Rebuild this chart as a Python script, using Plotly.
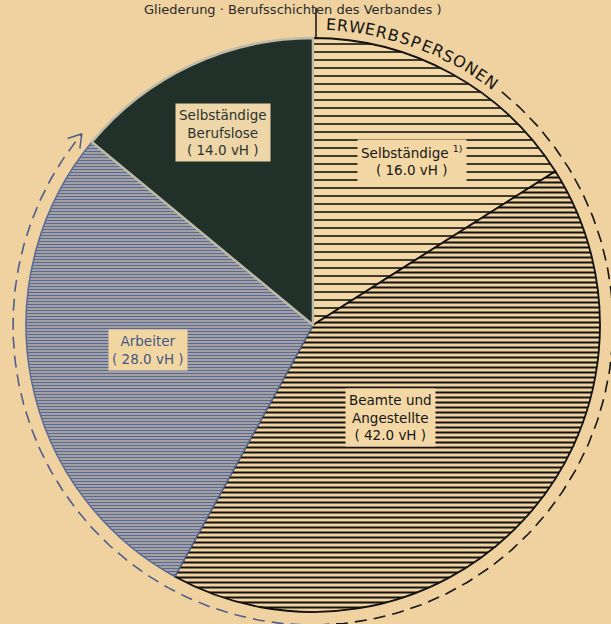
import math
import plotly.graph_objects as go

# ---- data ----
categories = ["Selbständige", "Beamte und Angestellte", "Arbeiter", "Selbständige Berufslose"]
shares = [16.0, 42.0, 28.0, 14.0]
label_texts = ["Selbständige <sup>1)</sup><br>( 16.0 vH )",
               "Beamte und<br>Angestellte<br>( 42.0 vH )",
               "Arbeiter<br>( 28.0 vH )",
               "Selbständige<br>Berufslose<br>( 14.0 vH )"]
group_label = "ERWERBSPERSONEN"
group_members = 3  # first three categories form the Erwerbspersonen
title_text = "Gliederung · Berufsschichten des Verbandes )"

# ---- style ----
W, H = 611, 624
CX, CY, R = 313, 325, 287
R_ARC = 300
BG = "#EFD29F"
fills = ["#F3D8A5", "#F0D39F", "#D3C7A4", "#22302A"]
pat_shape = ["-", "-", "-", ""]
pat_fg = ["#111111", "#111111", "#5A699A", "#22302A"]
pat_size = [8, 5, 3, 6]
pat_sol = [0.2, 0.4, 0.6, 0.3]
line_cols = ["#111111", "#111111", "#5B6A96", "#BDBBA8"]
lab_r = [0.67, 0.42, 0.58, 0.74]       # radial fraction for label placement
lab_dang = [2.2, 6.6, 2.1, 0.0]         # angle nudge in degrees
lab_colors = ["#161616", "#161616", "#465683", "#2A3530"]
lab_bg = ["#F3D8A5", "#F3D8A5", "#F1D6A2", "#EFD6A8"]

total = sum(shares)
fig = go.Figure()

fig.add_trace(go.Pie(
    labels=categories, values=shares, sort=False, direction="clockwise", rotation=0,
    textinfo="none", hoverinfo="label+percent", showlegend=False,
    domain=dict(x=[(CX - R) / W, (CX + R) / W], y=[(H - CY - R) / H, (H - CY + R) / H]),
    marker=dict(colors=fills, line=dict(color=line_cols, width=[1.8, 1.8, 1.5, 2.5]),
                pattern=dict(shape=pat_shape, fgcolor=pat_fg, bgcolor=fills,
                             size=pat_size, solidity=pat_sol, fillmode="replace")),
))

def pt(ang_deg, r):
    a = math.radians(ang_deg)
    return CX + r * math.sin(a), CY - r * math.cos(a)

# cumulative angles
bounds = [0]
for s in shares:
    bounds.append(bounds[-1] + 360 * s / total)
group_end = bounds[group_members]

# dashed arc around Erwerbspersonen
def arc(a0, a1, n=200):
    xs, ys = [], []
    for i in range(n + 1):
        x, y = pt(a0 + (a1 - a0) * i / n, R_ARC)
        xs.append(x); ys.append(y)
    return xs, ys

xs, ys = arc(39, 182)
fig.add_trace(go.Scatter(x=xs, y=ys, mode="lines", hoverinfo="skip", showlegend=False,
                         line=dict(color="#151515", width=1.6, dash="12px,7px")))
xs, ys = arc(182, group_end)
fig.add_trace(go.Scatter(x=xs, y=ys, mode="lines", hoverinfo="skip", showlegend=False,
                         line=dict(color="#4F5E8C", width=1.6, dash="12px,7px")))

# start tick at top
x0, y0 = pt(bounds[0], R - 2)
x1, y1 = pt(bounds[0], R + 30)
fig.add_trace(go.Scatter(x=[x0 + 3, x1 + 3], y=[y0, y1], mode="lines", hoverinfo="skip",
                         showlegend=False, line=dict(color="#111111", width=1.5)))

# chevron arrow at the end of arc
tx, ty = pt(group_end, R_ARC)
ta = math.radians(group_end)
dirx, diry = math.cos(ta), math.sin(ta)  # clockwise travel direction (screen)
ax_, ay_ = [], []
for s in (1, -1):
    rot = math.radians(180 + s * 32)
    bx = dirx * math.cos(rot) - diry * math.sin(rot)
    by = dirx * math.sin(rot) + diry * math.cos(rot)
    ax_ += [tx + 15 * bx, tx, None]
    ay_ += [ty + 15 * by, ty, None]
fig.add_trace(go.Scatter(x=ax_, y=ay_, mode="lines", hoverinfo="skip", showlegend=False,
                         line=dict(color="#4F5E8C", width=1.5)))

annotations = []
# slice labels
for i, txt in enumerate(label_texts):
    mid = (bounds[i] + bounds[i + 1]) / 2 + lab_dang[i]
    x, y = pt(mid, R * lab_r[i])
    annotations.append(dict(x=x, y=y, xref="x", yref="y", text=txt, showarrow=False,
                            font=dict(family="DejaVu Sans", size=13.5, color=lab_colors[i]),
                            bgcolor=lab_bg[i], borderpad=3, align="center"))

# curved group label
char_w = {"W": 3.1, "O": 2.6, "N": 2.5, "R": 2.3, "B": 2.3}
ang = 2.3
for ch in group_label:
    w = char_w.get(ch, 2.2)
    a = ang + w / 2
    x, y = pt(a, R_ARC + 1)
    annotations.append(dict(x=x, y=y, xref="x", yref="y", text=ch, showarrow=False,
                            textangle=a, font=dict(family="DejaVu Sans", size=16, color="#151515")))
    ang += w

# title at top
annotations.append(dict(x=0.48, y=1.0, xref="paper", yref="paper", yanchor="top",
                        text=title_text, showarrow=False,
                        font=dict(family="DejaVu Sans", size=13, color="#2A2A2A")))

fig.update_layout(
    width=W, height=H, margin=dict(l=0, r=0, t=0, b=0),
    paper_bgcolor=BG, plot_bgcolor=BG,
    xaxis=dict(range=[0, W], visible=False, fixedrange=True),
    yaxis=dict(range=[H, 0], visible=False, fixedrange=True),
    annotations=annotations, showlegend=False,
)

fig.write_html("out.html", config={"displayModeBar": False},
               post_script="document.body.style.margin='0';")
